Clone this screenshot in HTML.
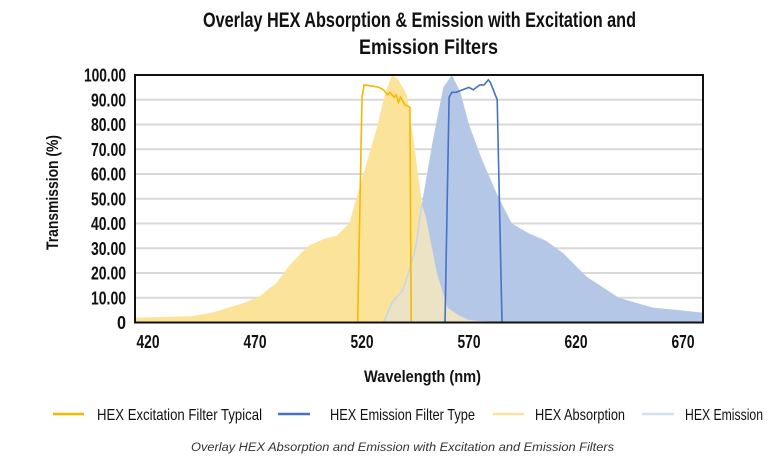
<!DOCTYPE html>
<html><head><meta charset="utf-8"><style>
html,body{margin:0;padding:0;background:#fff;}
svg{display:block;font-family:"Liberation Sans",sans-serif;}
</style></head><body>
<svg id="chart" width="777" height="461" viewBox="0 0 777 461">
<text x="203" y="27" textLength="433" lengthAdjust="spacingAndGlyphs" font-size="21" font-weight="bold" fill="#111">Overlay HEX Absorption &amp; Emission with Excitation and</text>
<text x="359" y="54" textLength="139" lengthAdjust="spacingAndGlyphs" font-size="21" font-weight="bold" fill="#111">Emission Filters</text>
<defs><clipPath id="absClip"><path id="absClipPath" d=""/></clipPath></defs>
<g id="grid"></g>
<g id="areas"></g>
<g id="lines"></g>
<rect x="135" y="75" width="568" height="247.5" fill="none" stroke="#111" stroke-width="2"/>
<g id="yticks"></g>
<g id="xticks"></g>
<text transform="translate(58,250) rotate(-90)" textLength="115" lengthAdjust="spacingAndGlyphs" font-size="17" font-weight="bold" fill="#111">Transmission (%)</text>
<text x="364" y="382" textLength="117" lengthAdjust="spacingAndGlyphs" font-size="17" font-weight="bold" fill="#111">Wavelength (nm)</text>
<g font-size="16" fill="#111">
 <g><line x1="53" y1="414" x2="84" y2="414" stroke="#f5b800" stroke-width="2.5"/><text x="97" y="420" textLength="165" lengthAdjust="spacingAndGlyphs">HEX Excitation Filter Typical</text></g>
 <g><line x1="278" y1="414" x2="310" y2="414" stroke="#4472c4" stroke-width="2.5"/><text x="330" y="420" textLength="145" lengthAdjust="spacingAndGlyphs">HEX Emission Filter Type</text></g>
 <g><line x1="493" y1="414" x2="524" y2="414" stroke="#fbe49a" stroke-width="2.5"/><text x="535" y="420" textLength="90" lengthAdjust="spacingAndGlyphs">HEX Absorption</text></g>
 <g><line x1="642" y1="414" x2="674" y2="414" stroke="#d3dff2" stroke-width="2.5"/><text x="685" y="420" textLength="78" lengthAdjust="spacingAndGlyphs">HEX Emission</text></g>
</g>
<text x="191" y="451" textLength="423" lengthAdjust="spacingAndGlyphs" font-size="11.5" font-style="italic" fill="#333">Overlay HEX Absorption and Emission with Excitation and Emission Filters</text>
</svg>
<script>
const xTicks = [420, 470, 520, 570, 620, 670];
const yTicks = [0, 10, 20, 30, 40, 50, 60, 70, 80, 90, 100];
const absWl = [414, 440, 450, 465, 472, 480, 487, 495, 503, 508, 514, 518, 522, 527, 531, 534, 537, 541, 545, 548, 550, 555, 560, 565, 570, 580, 600];
const absVal = [2, 2.5, 4, 8, 10.5, 16, 24, 31, 34, 35, 40, 52, 64, 79, 93, 100, 98, 92, 68, 48, 42, 20, 6, 3, 1, 0.3, 0];
const emWl = [530, 534, 539, 541, 545, 548, 553, 558, 562, 566, 570, 576, 583, 590, 598, 606, 614, 625, 640, 656, 668, 679];
const emVal = [0, 8, 13, 18, 30, 48, 73, 95, 100, 93, 80, 66, 52, 40, 36, 33, 28, 18.5, 10, 6, 5, 4];
const exWl = [414, 518, 520, 521, 525, 528, 530, 532, 533, 535, 536, 537, 538, 540, 542.4, 543, 679];
const exVal = [0, 0, 91, 96, 95.5, 95, 94, 92, 93, 91, 92, 89, 91, 88, 87, 0, 0];
const efWl = [414, 558.8, 560.7, 562, 564, 567, 570, 572, 575, 577, 579, 580, 583.2, 585.4, 679];
const efVal = [0, 0, 91, 93, 93, 94, 95, 94, 96, 96, 98, 97, 90, 0, 0];

const X0 = 148, PXNM = 2.14, YB = 322.5, PXV = 2.475;
const xs = nm => X0 + (nm - 420) * PXNM;
const ys = v => YB - v * PXV;
const NS = "http://www.w3.org/2000/svg";
function mk(tag, attrs, parent){ const e = document.createElementNS(NS, tag); for (const k in attrs) e.setAttribute(k, attrs[k]); parent.appendChild(e); return e; }
function areaPath(w, v){ let d = "M" + xs(w[0]) + "," + ys(0); for (let i=0;i<w.length;i++) d += " L" + xs(w[i]).toFixed(1) + "," + ys(v[i]).toFixed(1); d += " L" + xs(w[w.length-1]) + "," + ys(0) + " Z"; return d; }
function linePath(w, v){ return w.map((n,i)=>(i?"L":"M")+xs(n).toFixed(1)+","+ys(v[i]).toFixed(1)).join(" "); }

const grid = document.getElementById('grid');
yTicks.forEach(t => { if (t>0 && t<100) { const l = mk('line', {x1:135, x2:703, y1:ys(t), y2:ys(t), stroke:'#d9d9d9', 'stroke-width':2}, grid);
 
  } });
const yt = document.getElementById('yticks');
yTicks.forEach(t => { const s = t===0 ? '0' : t.toFixed(2);
 const w = t===0 ? 9 : (t===100 ? 42 : 35);
 const e = mk('text', {x:126 - w, y:ys(t)+6.5, textLength:w, lengthAdjust:'spacingAndGlyphs', 'font-size':18, 'font-weight':'bold', fill:'#111'}, yt); e.textContent = s;
 
  });
const xt = document.getElementById('xticks');
xTicks.forEach(t => { const e = mk('text', {x:xs(t)-11.5, y:348, textLength:23, lengthAdjust:'spacingAndGlyphs', 'font-size':18, 'font-weight':'bold', fill:'#111'}, xt); e.textContent = t;
 
  });

document.getElementById('absClipPath').setAttribute('d', areaPath(absWl, absVal));
const ar = document.getElementById('areas');
const a1 = mk('path', {d:areaPath(absWl, absVal), fill:'#fbe49a'}, ar);


const a2 = mk('path', {d:areaPath(emWl, emVal), fill:'#b4c7e7'}, ar);


const a3 = mk('path', {d:areaPath(emWl, emVal), fill:'#ebe3c4', 'clip-path':'url(#absClip)'}, ar);


const a4 = mk('path', {d:linePath(emWl.slice(0,6), emVal.slice(0,6)), fill:'none', stroke:'#c5d5ee', 'stroke-width':1.5}, ar);



const ln = document.getElementById('lines');
const l1 = mk('path', {d:linePath(efWl, efVal), fill:'none', stroke:'#4472c4', 'stroke-width':1.6}, ln);


const l2 = mk('path', {d:linePath(exWl, exVal), fill:'none', stroke:'#f5b800', 'stroke-width':1.6}, ln);


</script>
</body></html>
